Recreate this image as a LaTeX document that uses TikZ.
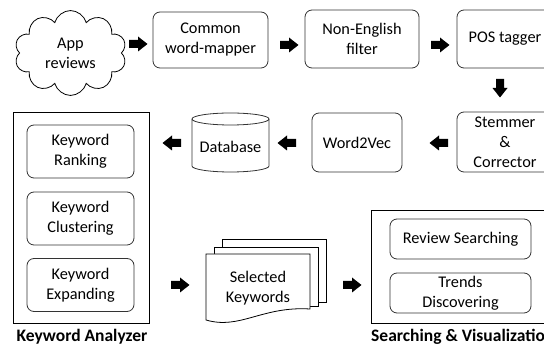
\documentclass[tikz,border=0pt]{standalone}
\usepackage{fontspec}
\setmainfont{Carlito}
\usetikzlibrary{shapes.symbols}
\begin{document}
\begin{tikzpicture}[x=1pt,y=1pt,
  font=\fontsize{16.3}{20}\selectfont,
  box/.style={draw=black!80, line width=0.8pt, rounded corners=7pt, align=center, inner sep=0pt},
  frame/.style={draw=black, line width=0.8pt, inner sep=0pt},
  lbl/.style={font=\fontsize{17.5}{20}\selectfont\bfseries, inner sep=0pt},
  blk/.pic={\fill (-9,-4) -- (0,-4) -- (0,-7.5) -- (9.5,0) -- (0,7.5) -- (0,4) -- (-9,4) -- cycle;}]
\useasboundingbox (0,0) rectangle (544,345);

% top row
\node[cloud, cloud puffs=10, draw, line width=0.8pt, minimum width=112, minimum height=77,
      align=center, inner sep=0pt] (app) at (70.5,292) {App\\reviews};
\node[box, minimum width=115, minimum height=56] (cw) at (210.5,305) {Common\\word-mapper};
\node[box, minimum width=114, minimum height=58] (ne) at (362,306) {Non-English\\filter};
\node[box, minimum width=96, minimum height=58] (pos) at (505,306) {POS tagger};

% second row
\node[box, minimum width=96, minimum height=60] (st) at (505,203) {Stemmer\\\&\\Corrector};
\node[box, minimum width=90, minimum height=59] (w2v) at (357,202.5) {Word2Vec};
\draw[line width=0.8pt, draw=black!80] (192,226) -- (192,179)
  arc[start angle=180,end angle=360,x radius=38.5,y radius=6] -- (269,226);
\draw[line width=0.8pt, draw=black!80] (230.5,226) ellipse[x radius=38.5,y radius=6];
\node[inner sep=0pt] (db) at (230.5,198) {Database};

% keyword analyzer
\node[frame, minimum width=136, minimum height=211] (ka) at (81,127.5) {};
\node[box, minimum width=107, minimum height=53] (kr) at (80.5,193.5) {Keyword\\Ranking};
\node[box, minimum width=107, minimum height=53] (kc) at (80.5,126.5) {Keyword\\Clustering};
\node[box, minimum width=107, minimum height=53] (ke) at (80.5,60) {Keyword\\Expanding};
\node[lbl] (kal) at (82,8) {Keyword Analyzer};

% selected keywords
\draw[line width=0.8pt] (222,98) -- (222,106) -- (326,106) -- (326,43) -- (318,43);
\draw[line width=0.8pt] (214,91) -- (214,98) -- (318,98) -- (318,39) -- (310,39);
\draw[line width=0.8pt, fill=white] (206,91) -- (310,91) -- (310,36)
  .. controls (262,39) and (240,15) .. (206,25) -- cycle;
\node[align=center, inner sep=0pt] (sk) at (258,57) {Selected\\Keywords};

% searching & visualization
\node[frame, minimum width=179, minimum height=113] (sv) at (460.5,78.5) {};
\node[box, minimum width=141, minimum height=40] (rs) at (460.5,106) {Review Searching};
\node[box, minimum width=141, minimum height=40] (td) at (460.5,52) {Trends\\Discovering};
\node[lbl, anchor=west] (svl) at (371,8) {Searching \& Visualization};

% block arrows
\pic at (138,301) {blk};
\pic at (289,300) {blk};
\pic at (440,300) {blk};
\pic[rotate=-90] at (500,257) {blk};
\pic[rotate=180] at (439,202) {blk};
\pic[rotate=180] at (287,202) {blk};
\pic[rotate=180] at (172,202) {blk};
\pic at (180,60) {blk};
\pic at (352,60) {blk};
\end{tikzpicture}
\end{document}
